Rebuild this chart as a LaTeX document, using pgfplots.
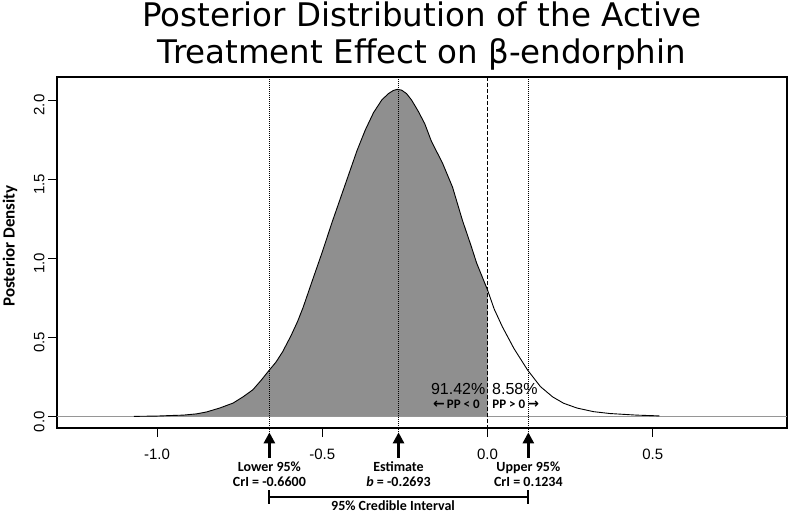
\documentclass[border=0pt]{standalone}
\usepackage{pgfplots}
\pgfplotsset{compat=1.18}
\usepackage{pgfplotstable}
\usetikzlibrary{arrows.meta}
\usepackage{fontspec}
\setmainfont{Liberation Sans}
\newfontfamily\titlefont{DejaVu Sans}
\newfontfamily\carlito{Carlito}
\definecolor{fillgray}{RGB}{143,143,143}
\definecolor{basegray}{RGB}{150,150,150}

\pgfplotstableread{
x y
-1.07 0.002
-1.00 0.004
-0.95 0.008
-0.92 0.010
-0.88 0.018
-0.85 0.030
-0.81 0.055
-0.77 0.086
-0.74 0.125
-0.71 0.170
-0.685 0.230
-0.66 0.295
-0.64 0.345
-0.62 0.410
-0.595 0.510
-0.575 0.600
-0.558 0.690
-0.53 0.860
-0.50 1.040
-0.47 1.230
-0.445 1.380
-0.425 1.500
-0.395 1.680
-0.37 1.810
-0.345 1.920
-0.32 2.000
-0.30 2.040
-0.285 2.060
-0.273 2.067
-0.26 2.062
-0.245 2.040
-0.23 2.000
-0.21 1.930
-0.19 1.850
-0.17 1.740
-0.136 1.600
-0.106 1.450
-0.076 1.240
-0.05 1.080
-0.033 0.970
0.0 0.800
0.02 0.680
0.045 0.567
0.08 0.430
0.121 0.295
0.16 0.190
0.197 0.125
0.23 0.085
0.27 0.055
0.32 0.032
0.37 0.020
0.45 0.010
0.52 0.005
}\density

\begin{document}
\begin{tikzpicture}[x=1pt,y=1pt]
\useasboundingbox (-57,-86) rectangle (735,428);
\tikzset{lbl/.style={font=\carlito\bfseries\fontsize{14}{15}\selectfont, align=center, inner sep=0pt, anchor=north},
  arr/.style={line width=2.6pt, -{Triangle[width=11pt,length=11pt]}}}
\begin{axis}[
  at={(0,0)}, anchor=south west,
  scale only axis, width=730pt, height=351pt,
  xmin=-1.3026, xmax=0.906, ymin=-0.0714, ymax=2.145,
  clip=false,
  axis line style={line width=2.4pt},
  xtick={-1,-0.5,0,0.5}, xticklabels={-1.0,-0.5,0.0,0.5},
  ytick={0,0.5,1,1.5,2}, yticklabels={0.0,0.5,1.0,1.5,2.0},
  tick align=outside, major tick length=9pt,
  tick style={black, line width=0.8pt},
  xtick pos=bottom, ytick pos=left,
  ticklabel style={font=\fontsize{15}{15}\selectfont},
  xticklabel style={yshift=-8pt},
  yticklabel style={rotate=90, anchor=south, xshift=-5pt},
]
\addplot[fill=fillgray, draw=none, restrict x to domain=-2:0] table[x=x,y=y]{\density} \closedcycle;
\draw[basegray, line width=0.7pt] (axis cs:-1.3026,0) -- (axis cs:0.906,0);
\addplot[black, line width=0.9pt] table[x=x,y=y]{\density};
% vertical reference lines
\draw[black, line width=0.9pt, dash pattern=on 1pt off 1pt] (axis cs:-0.66,2.145) -- (axis cs:-0.66,-0.0966);
\draw[black, line width=0.9pt, dash pattern=on 1pt off 1pt] (axis cs:-0.2693,2.145) -- (axis cs:-0.2693,-0.0966);
\draw[black, line width=0.9pt, dash pattern=on 1pt off 1pt] (axis cs:0.1234,2.145) -- (axis cs:0.1234,-0.0966);
\draw[black, line width=1pt, dash pattern=on 4pt off 2pt] (axis cs:0,2.145) -- (axis cs:0,-0.0714);
% arrows
\draw[arr] (axis cs:-0.66,-0.2608) -- (axis cs:-0.66,-0.0990);
\draw[arr] (axis cs:-0.2693,-0.2608) -- (axis cs:-0.2693,-0.0990);
\draw[arr] (axis cs:0.1234,-0.2608) -- (axis cs:0.1234,-0.0990);
% labels under arrows
\node[lbl] at (axis cs:-0.66,-0.283) {Lower 95\%\\CrI = -0.6600};
\node[lbl] at (axis cs:-0.2693,-0.283) {Estimate\\\textit{b} = -0.2693};
\node[lbl] at (axis cs:0.1234,-0.283) {Upper 95\%\\CrI = 0.1234};
% bracket
\draw[line width=1.8pt] (axis cs:-0.66,-0.508) -- (axis cs:0.1234,-0.508);
\draw[line width=1.8pt] (axis cs:-0.66,-0.465) -- (axis cs:-0.66,-0.553);
\draw[line width=1.8pt] (axis cs:0.1234,-0.465) -- (axis cs:0.1234,-0.553);
\node[lbl] at (axis cs:-0.286,-0.528) {95\% Credible Interval};
% PP annotations
\node[anchor=base east, inner sep=0pt, font=\fontsize{16}{16}\selectfont] at (axis cs:-0.006,0.138) {91.42\%};
\node[anchor=base west, inner sep=0pt, font=\fontsize{16}{16}\selectfont] at (axis cs:0.0136,0.138) {8.58\%};
\node[anchor=east, inner sep=0pt, font=\carlito\bfseries\fontsize{13}{13}\selectfont] at (axis cs:-0.023,0.078) {{\titlefont\bfseries\fontsize{14}{14}\selectfont ←}\,PP < 0};
\node[anchor=west, inner sep=0pt, font=\carlito\bfseries\fontsize{13}{13}\selectfont] at (axis cs:0.014,0.078) {PP > 0\,{\titlefont\bfseries\fontsize{14}{14}\selectfont →}};
\end{axis}
% y label
\node[rotate=90, font=\carlito\bfseries\fontsize{17}{17}\selectfont] at (-47,182) {Posterior Density};
% title
\node[anchor=base, inner sep=0pt, font=\titlefont\fontsize{32.5}{32.5}\selectfont] at (365,401) {Posterior Distribution of the Active};
\node[anchor=base, inner sep=0pt, font=\titlefont\fontsize{32.5}{32.5}\selectfont] at (365,364) {Treatment Effect on β-endorphin};
\end{tikzpicture}
\end{document}
